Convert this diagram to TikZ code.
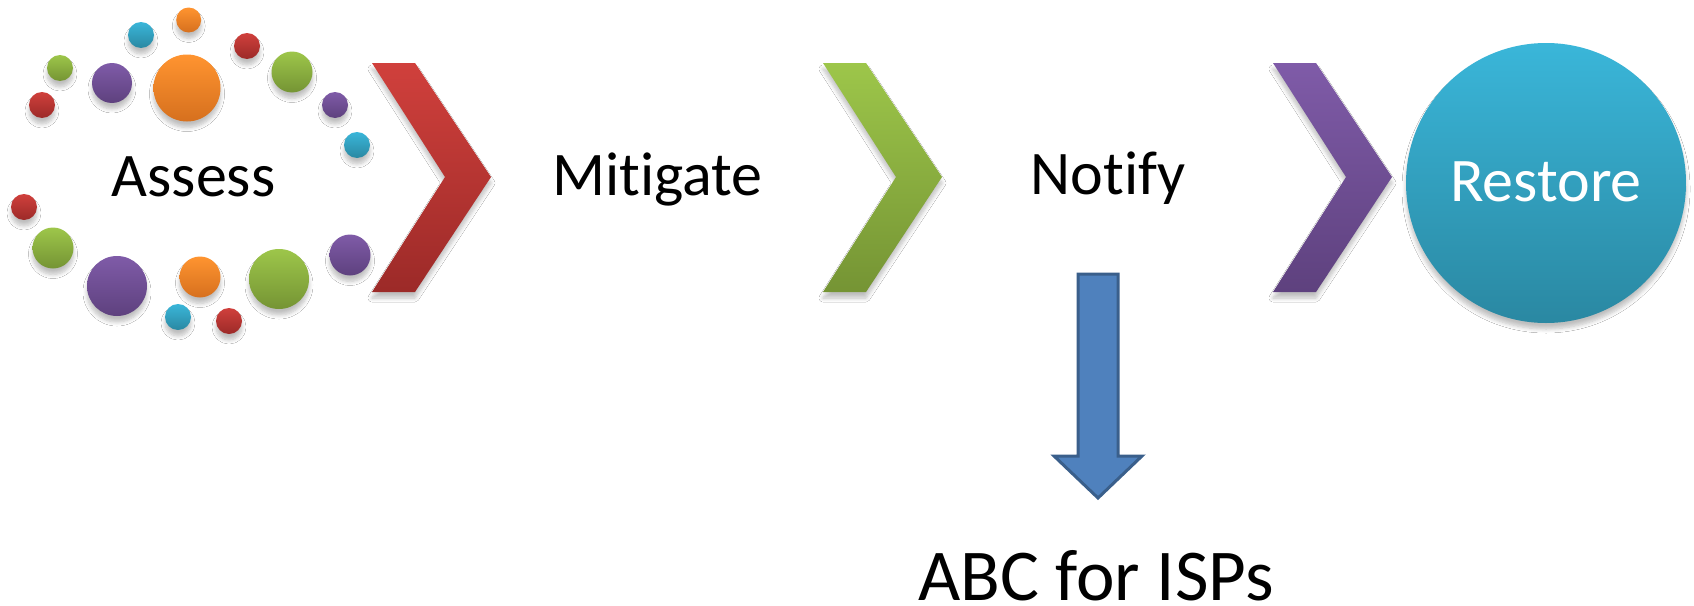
\documentclass[tikz,border=0pt]{standalone}
\usepackage{fontspec}
\setmainfont[Ligatures={NoCommon}]{Carlito}
\usetikzlibrary{shadows.blur}
\definecolor{redT}{HTML}{D0403C}
\definecolor{redB}{HTML}{9C2A28}
\definecolor{grnT}{HTML}{9DC64A}
\definecolor{grnB}{HTML}{759434}
\definecolor{purT}{HTML}{7F5BA8}
\definecolor{purB}{HTML}{5E417E}
\definecolor{cyaT}{HTML}{3AB6D9}
\definecolor{cyaB}{HTML}{2A88A2}
\definecolor{orgT}{HTML}{FF9430}
\definecolor{orgB}{HTML}{D6701E}
\definecolor{arrFill}{HTML}{4F81BD}
\definecolor{arrLine}{HTML}{3A5F8B}
\begin{document}
\begin{tikzpicture}[x=1pt,y=-1pt,
  soft/.style={blur shadow={shadow xshift=0pt, shadow yshift=-6pt,
      shadow blur radius=4pt, shadow blur steps=6, shadow opacity=25}},
  ball/.style 2 args={circle, inner sep=0pt, minimum size=#1pt,
      top color=#2T, bottom color=#2B, soft},
  lbl/.style={inner sep=0pt, anchor=base, font=\fontsize{62}{74}\selectfont},
  chevshape/.style 2 args={top color=#1, bottom color=#2, soft}]
\fill[white] (0,0) rectangle (1694,605);
\useasboundingbox (0,0) rectangle (1694,605);

% ring of coloured balls around "Assess"
\foreach \n/\cx/\cy/\d/\c in {
   b1/188.7/20/25/org, b2/141/35/26/cya, b3/247/46/26/red, b4/60/68/26/grn,
   b5/112/83/40/pur, b6/187/88/67/org, b7/292/72/41/grn, b8/42/105/26/red,
   b9/335/105/26/pur, b10/357/145/26/cya, b11/24/207/26/red, b12/53/248/41/grn,
   b13/117/286/60/pur, b14/200/277/41/org, b15/279/279/60/grn, b16/350/255/41/pur,
   b17/178/317/26/cya, b18/229/321/26/red}
  \node[ball={\d}{\c}] (\n) at (\cx,\cy) {};

% chevrons between the steps
\foreach \x/\ct/\cb in {372/redT/redB, 823/grnT/grnB, 1273/purT/purB}
  \path[chevshape={\ct}{\cb}] (\x,63) -- (\x+43,63) -- (\x+119,177)
     -- (\x+43,292) -- (\x,292) -- (\x+73,177) -- cycle;

% final step
\node[circle, inner sep=0pt, minimum size=280pt, top color=cyaT,
      bottom color=cyaB, soft] (restorebg) at (1546,183) {};

% step labels (kern keeps the t and i apart)
\node[lbl] (assess) at (193.5,196) {Assess};
\node[lbl] (mitigate) at (657.5,195) {Mit\kern0pt igate};
\node[lbl] (notify) at (1108,194) {Notify};
\node[lbl, text=white] (restore) at (1546,201.5) {Restore};
\node[lbl, font=\fontsize{73}{86}\selectfont] (abc) at (1096,600) {ABC for ISPs};

% block arrow from Notify down to the ISP note
\coordinate (atop) at (1098,274);
\coordinate (atip) at (1098,498);
\filldraw[fill=arrFill, draw=arrLine, line width=3pt, line join=miter]
  ([xshift=-20pt]atop) -- ([xshift=20pt]atop) -- ([xshift=20pt]atop |- 0,456)
  -- ([xshift=44pt]atop |- 0,456) -- (atip) -- ([xshift=-44pt]atop |- 0,456)
  -- ([xshift=-20pt]atop |- 0,456) -- cycle;
\end{tikzpicture}
\end{document}
